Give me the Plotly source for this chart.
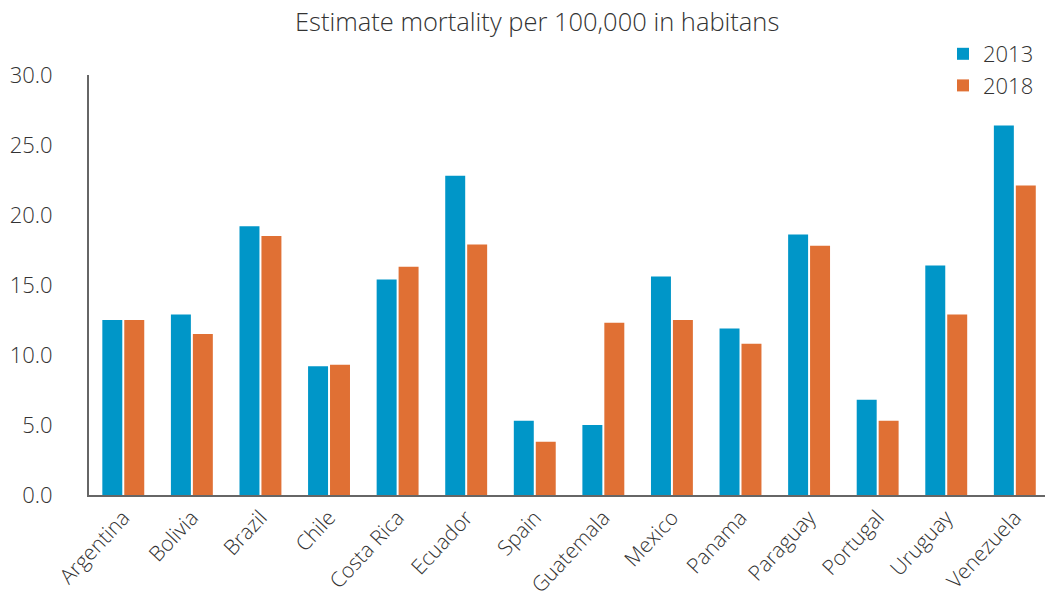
import plotly.graph_objects as go

countries = ["Argentina", "Bolivia", "Brazil", "Chile", "Costa Rica", "Ecuador", "Spain",
             "Guatemala", "Mexico", "Panama", "Paraguay", "Portugal", "Uruguay", "Venezuela"]
values_2013 = [12.5, 12.9, 19.2, 9.2, 15.4, 22.8, 5.3, 5.0, 15.6, 11.9, 18.6, 6.8, 16.4, 26.4]
values_2018 = [12.5, 11.5, 18.5, 9.3, 16.3, 17.9, 3.8, 12.3, 12.5, 10.8, 17.8, 5.3, 12.9, 22.1]
y_ticks = [0, 5, 10, 15, 20, 25, 30]

FONT = "Open Sans"
TXT = "#333333"

fig = go.Figure()
fig.add_trace(go.Bar(name="2013", x=countries, y=values_2013, marker_color="#0096C8",
                     marker_line_width=0))
fig.add_trace(go.Bar(name="2018", x=countries, y=values_2018, marker_color="#E07034",
                     marker_line_width=0))

fig.update_layout(
    width=1045, height=598,
    margin=dict(l=89, r=0, t=75, b=103),
    paper_bgcolor="white", plot_bgcolor="white",
    barmode="group", bargap=0.36, bargroupgap=0.09,
    font=dict(family=FONT, color=TXT, size=21, weight=300),
    title=dict(text="Estimate mortality per 100,000 in habitans",
               x=0.514, xref="container", xanchor="center",
               y=1 - 22 / 598, yref="container", yanchor="middle",
               font=dict(family=FONT, size=25.5, color=TXT, weight=300)),
    legend=dict(x=(943 - 89) / 956, xanchor="left", y=1.10, yanchor="top",
                font=dict(size=22, color=TXT, weight=300),
                bgcolor="rgba(0,0,0,0)", itemclick=False),
    showlegend=True,
)
fig.update_xaxes(range=[-0.5, 13.44], showline=True, linecolor="#666666", linewidth=2,
                 showgrid=False, tickangle=-47, ticks="", tickfont=dict(size=21),
                 zeroline=False, automargin=False)
fig.update_yaxes(range=[0, 30], tickvals=y_ticks, tickformat=".1f", showline=True,
                 linecolor="#666666", linewidth=2, showgrid=False, zeroline=False,
                 ticks="", ticklabelstandoff=30, tickfont=dict(size=22), automargin=False)

fig.write_html("out.html")
